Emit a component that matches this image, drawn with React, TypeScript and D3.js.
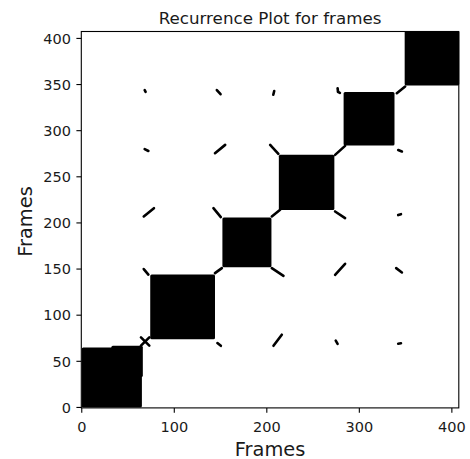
import React from 'react'
import { scaleLinear } from 'd3'

// recurrence blocks on the diagonal (frame ranges)
const blockX0 = [0, 32, 74, 152, 213, 283, 349]
const blockX1 = [65, 66, 144, 205, 273, 338, 408]
const blockY0 = [0, 33, 74, 152, 214, 284, 349]
const blockY1 = [65, 67, 144, 206, 274, 342, 408]

// small off-diagonal recurrences: start / end frame of each streak
const speckX1 = [68, 146, 208, 276.5, 277, 340.5, 68, 144, 203.6, 273.8, 342, 67, 142.3, 205.4, 273.8, 342, 67, 144, 205.4, 273.8, 339.8, 64, 64, 146.6, 207.2, 274.5, 342]
const speckY1 = [344, 344, 343, 346, 342, 340.6, 280, 275.6, 284.6, 273.8, 279, 207, 216, 207, 212.4, 208.5, 150, 145.6, 151, 143.8, 151, 76, 67, 69.8, 66.8, 72.5, 69]
const speckX2 = [69, 150, 207, 277, 279, 349.5, 72, 155, 212.5, 284.6, 346, 78, 150.3, 214.4, 284.6, 345, 72, 151.4, 218, 284.6, 346, 73, 73, 150.3, 216.2, 276.5, 345]
const speckY2 = [342, 339.5, 339, 342, 341, 347.8, 278, 284.6, 274.9, 283.5, 277.4, 216, 206.3, 214.2, 205.2, 209.5, 144, 151, 142.7, 155.7, 146.3, 67, 76, 66.8, 78.8, 69, 69.5]

const xTicks = [0, 100, 200, 300, 400]
const yTicks = [0, 50, 100, 150, 200, 250, 300, 350, 400]

const W = 470
const H = 459
const left = 81.3
const right = 458.8
const top = 31.5
const bottom = 407.9

const font = 'DejaVu Sans, sans-serif'
const ink = '#1a1a1a'

const App = () => {
    const x = scaleLinear().domain([-0.5, 407.5]).range([left, right])
    const y = scaleLinear().domain([-0.5, 407.5]).range([bottom, top])

    return (
        <svg width={W} height={H} style={{ position: 'absolute', left: 0, top: 0, background: '#fff' }}>
            <rect x={left} y={top} width={right - left} height={bottom - top} fill="#fff" />
            <g>
                {blockX0.map((b, i) => (
                    <rect key={i}
                        x={x(b)} y={y(blockY1[i])}
                        width={x(blockX1[i]) - x(b)} height={y(blockY0[i]) - y(blockY1[i])}
                        rx={1.5} fill="#000" />
                ))}
                {speckX1.map((s, i) => (
                    <line key={i}
                        x1={x(s)} y1={y(speckY1[i])} x2={x(speckX2[i])} y2={y(speckY2[i])}
                        stroke="#000" strokeWidth={2.6} strokeLinecap="round" />
                ))}
            </g>
            <rect x={left} y={top} width={right - left} height={bottom - top} fill="none" stroke="#000" strokeWidth={1.1} />

            {xTicks.map(t => (
                <g key={t}>
                    <line x1={x(t)} x2={x(t)} y1={bottom} y2={bottom + 4.9} stroke="#000" strokeWidth={1.1} />
                    <text x={x(t)} y={431.5} textAnchor="middle" fontFamily={font} fontSize={14.5} fill={ink}>{t}</text>
                </g>
            ))}
            {yTicks.map(t => (
                <g key={t}>
                    <line x1={left - 4.9} x2={left} y1={y(t)} y2={y(t)} stroke="#000" strokeWidth={1.1} />
                    <text x={71} y={y(t) + 5.3} textAnchor="end" fontFamily={font} fontSize={14.5} fill={ink}>{t}</text>
                </g>
            ))}

            <text x={(left + right) / 2} y={23.5} textAnchor="middle" fontFamily={font} fontSize={16.7} fill={ink}>Recurrence Plot for frames</text>
            <text x={(left + right) / 2} y={456} textAnchor="middle" fontFamily={font} fontSize={19.4} fill={ink}>Frames</text>
            <text transform={`translate(32, 221.5) rotate(-90)`} textAnchor="middle" fontFamily={font} fontSize={19.4} fill={ink}>Frames</text>
        </svg>
    )
}

export default App
